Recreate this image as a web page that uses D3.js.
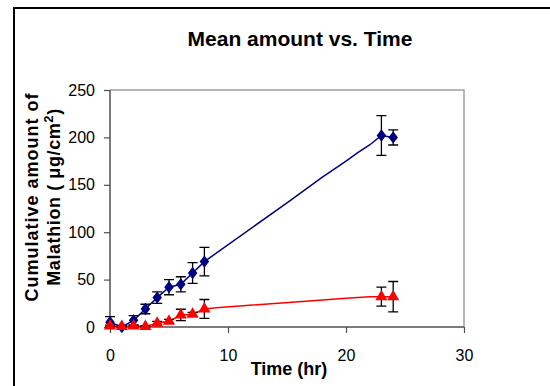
<!DOCTYPE html>
<html>
<head>
<meta charset="utf-8">
<script src="https://cdn.jsdelivr.net/npm/d3@7"></script>
<style>
    body { margin: 0; background: #fff; }
    svg { display: block; font-family: "Liberation Sans", Arial, sans-serif; }
</style>
</head>
<body>
<script>
// measured points
var timePoints = [0, 1, 2, 3, 4, 5, 6, 7, 8, 23, 24];
var blueMean = [5, 0, 7, 19, 31, 42, 45, 57, 69, 202, 200];
var blueErr = [6, 1, 5, 5, 6, 8, 8, 11, 15, 21, 8];
var redMean = [1, 0.5, 1, 0.5, 4, 6, 12.7, 13.4, 19, 32, 32];
var redErr = [1, 1, 1, 1, 2, 2, 6, 2, 10, 10, 16];

// fitted lines
var blueLineTime = [0, 1, 2, 3, 4, 5, 6, 7, 8, 15, 18, 20, 21, 22, 23, 24];
var blueLineVal = [5, 0, 7, 19, 31, 42, 45, 57, 69, 131, 158, 175, 184, 192, 202, 200];
var redLineTime = [0, 1, 2, 3, 4, 5, 6, 7, 8, 9, 16, 20, 22, 23, 24];
var redLineVal = [1, 0.5, 1, 0.5, 4, 6, 12.7, 13.4, 19, 20.4, 26.7, 30.3, 31.9, 32, 32];

var xTicks = [0, 10, 20, 30];
var yTicks = [0, 50, 100, 150, 200, 250];

function meanChart() {

    this.init = function () {
        var svg = d3.select("body")
            .append("svg")
            .attr("width", 550)
            .attr("height", 386);

        // outer frame, runs off the right and bottom edge
        svg.append("rect")
            .attr("x", 14).attr("y", 8)
            .attr("width", 560).attr("height", 400)
            .attr("fill", "none")
            .attr("stroke", "#000")
            .attr("stroke-width", 2);

        var x = d3.scaleLinear().domain([0, 30]).range([110, 464]);
        var y = d3.scaleLinear().domain([0, 250]).range([327, 90]);

        this.drawFrame(svg, x, y);
        this.drawSeries(svg, x, y, blueLineTime, blueLineVal, blueMean, blueErr, "#000080", "diamond");
        this.drawSeries(svg, x, y, redLineTime, redLineVal, redMean, redErr, "#ff0000", "triangle");
        this.drawText(svg);
    };

    this.drawFrame = function (svg, x, y) {
        // plot border (top and right)
        svg.append("path")
            .attr("d", "M" + x(0) + "," + y(250) + "H" + x(30) + "V" + y(0))
            .attr("fill", "none")
            .attr("stroke", "#a0a0a0")
            .attr("stroke-width", 1.5);

        var xAxis = svg.append("g")
            .attr("transform", "translate(0," + y(0) + ")")
            .call(d3.axisBottom(x).tickValues(xTicks).tickSize(6).tickPadding(17));
        var yAxis = svg.append("g")
            .attr("transform", "translate(" + x(0) + ",0)")
            .call(d3.axisLeft(y).tickValues(yTicks).tickSize(6).tickPadding(9));

        [xAxis, yAxis].forEach(function (g) {
            g.select(".domain").attr("stroke", "#505050").attr("stroke-width", 1.5);
            g.selectAll(".tick line").attr("stroke", "#505050").attr("stroke-width", 1.2);
            g.selectAll(".tick text")
                .attr("font-size", 16)
                .attr("font-family", "Liberation Sans, Arial, sans-serif")
                .attr("fill", "#000");
        });
        yAxis.select(".domain").attr("d", "M0," + y(250) + "V" + y(0));
        xAxis.select(".domain").attr("d", "M" + x(0) + ",0H" + x(30));
    };

    this.drawSeries = function (svg, x, y, lineT, lineV, mean, err, colour, shape) {
        var line = d3.line()
            .x(function (d) { return x(d[0]); })
            .y(function (d) { return y(d[1]); });

        svg.append("path")
            .datum(d3.zip(lineT, lineV))
            .attr("d", line)
            .attr("fill", "none")
            .attr("stroke", colour)
            .attr("stroke-width", 1.5);

        var pts = d3.zip(timePoints, mean, err);

        var bars = svg.append("g").attr("stroke", "#000").attr("stroke-width", 1.3);
        pts.forEach(function (p) {
            var cx = x(p[0]), lo = y(Math.max(p[1] - p[2], 0)), hi = y(p[1] + p[2]);
            bars.append("path")
                .attr("d", "M" + cx + "," + lo + "V" + hi +
                    "M" + (cx - 5) + "," + hi + "H" + (cx + 5) +
                    "M" + (cx - 5) + "," + lo + "H" + (cx + 5))
                .attr("fill", "none");
        });

        var sym = shape === "diamond"
            ? d3.symbol().type(d3.symbolDiamond2).size(80)
            : d3.symbol().type(d3.symbolTriangle).size(64);

        svg.append("g").selectAll("path")
            .data(pts)
            .join("path")
            .attr("transform", function (d) {
                return "translate(" + x(d[0]) + "," + y(d[1]) + ")" + (shape === "diamond" ? " scale(0.85,1.1)" : "");
            })
            .attr("d", sym)
            .attr("fill", colour);
    };

    this.drawText = function (svg) {
        svg.append("text")
            .attr("x", 300).attr("y", 46)
            .attr("text-anchor", "middle")
            .attr("font-size", 21)
            .attr("font-weight", "bold")
            .text("Mean amount vs. Time");

        svg.append("text")
            .attr("x", 289).attr("y", 375)
            .attr("text-anchor", "middle")
            .attr("font-size", 18)
            .attr("font-weight", "bold")
            .text("Time (hr)");

        var yl = svg.append("text")
            .attr("transform", "translate(38,197) rotate(-90)")
            .attr("text-anchor", "middle")
            .attr("font-size", 18)
            .attr("font-weight", "bold");
        yl.append("tspan").attr("x", 0).attr("y", 0)
            .attr("letter-spacing", 1)
            .text("Cumulative amount of");

        var yl2 = svg.append("text")
            .attr("transform", "translate(60,197) rotate(-90)")
            .attr("text-anchor", "middle")
            .attr("font-size", 18)
            .attr("font-weight", "bold")
            .attr("letter-spacing", 0.6);
        yl2.append("tspan").text("Malathion ( μg/cm");
        yl2.append("tspan").attr("dy", -7).attr("font-size", 13).text("2");
        yl2.append("tspan").attr("dy", 7).text(")");
    };
}

window.onload = function () {
    new meanChart().init();
};
</script>
</body>
</html>
